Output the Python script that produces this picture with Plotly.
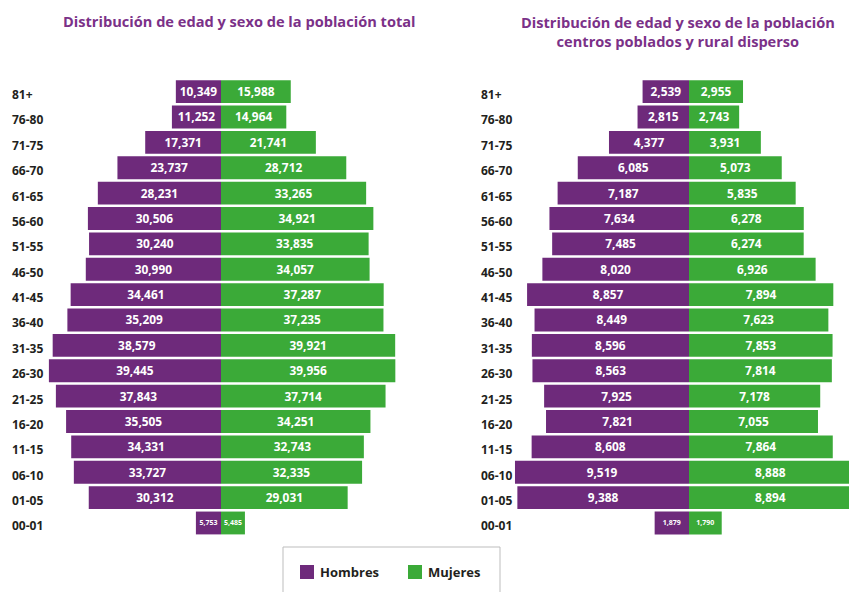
import plotly.graph_objects as go

W, H = 849, 592

# Age groups, bottom to top
ages = ["00-01", "01-05", "06-10", "11-15", "16-20", "21-25", "26-30", "31-35", "36-40",
        "41-45", "46-50", "51-55", "56-60", "61-65", "66-70", "71-75", "76-80", "81+"]

# Población total
total_hombres = [5753, 30312, 33727, 34331, 35505, 37843, 39445, 38579, 35209,
                 34461, 30990, 30240, 30506, 28231, 23737, 17371, 11252, 10349]
total_mujeres = [5485, 29031, 32335, 32743, 34251, 37714, 39956, 39921, 37235,
                 37287, 34057, 33835, 34921, 33265, 28712, 21741, 14964, 15988]

# Centros poblados y rural disperso
rural_hombres = [1879, 9388, 9519, 8608, 7821, 7925, 8563, 8596, 8449,
                 8857, 8020, 7485, 7634, 7187, 6085, 4377, 2815, 2539]
rural_mujeres = [1790, 8894, 8888, 7864, 7055, 7178, 7814, 7853, 7623,
                 7894, 6926, 6274, 6278, 5835, 5073, 3931, 2743, 2955]

title_total = "Distribución de edad y sexo de la población total"
title_rural = "Distribución de edad y sexo de la población<br>centros poblados y rural disperso"

PURPLE = "#6E2A7B"
GREEN = "#3BAA38"
TITLE_COLOR = "#7B3188"
FONT = "Open Sans"


def px(x):
    return x / W


def py(y):
    return 1 - y / H


def sizes(n):
    # the first group (00-01) gets a much smaller label
    return [7] + [12] * (n - 1)


fig = go.Figure()


def add_pyramid(men, women, xa, ya):
    fig.add_trace(go.Bar(
        y=ages, x=[-v for v in men], orientation="h", name="Hombres",
        marker=dict(color=PURPLE, line=dict(width=0)),
        text=[f"{v:,}" for v in men], textposition="inside", insidetextanchor="middle",
        textangle=0,
        textfont=dict(color="white", family=FONT, size=sizes(len(men)), weight="bold"),
        xaxis=xa, yaxis=ya, showlegend=False, hoverinfo="skip",
    ))
    fig.add_trace(go.Bar(
        y=ages, x=women, orientation="h", name="Mujeres",
        marker=dict(color=GREEN, line=dict(width=0)),
        text=[f"{v:,}" for v in women], textposition="inside", insidetextanchor="middle",
        textangle=0,
        textfont=dict(color="white", family=FONT, size=sizes(len(women)), weight="bold"),
        xaxis=xa, yaxis=ya, showlegend=False, hoverinfo="skip",
    ))


add_pyramid(total_hombres, total_mujeres, "x", "y")
add_pyramid(rural_hombres, rural_mujeres, "x2", "y2")

# axis scales: units per pixel for each pyramid
left_upp = 229.2
right_upp = 54.7
yrange = [-2.72, 20.61]

axis_common = dict(showgrid=False, zeroline=False, showticklabels=False, showline=False,
                   ticks="", fixedrange=True)

fig.update_layout(
    width=W, height=H,
    margin=dict(l=0, r=0, t=0, b=0),
    paper_bgcolor="white", plot_bgcolor="white",
    barmode="relative", bargap=0.1,
    font=dict(family=FONT, color="#231F20"),
    showlegend=False,
    xaxis=dict(domain=[0, px(424)], range=[-221 * left_upp, (424 - 221) * left_upp], **axis_common),
    xaxis2=dict(domain=[px(430), 1], range=[-(689 - 430) * right_upp, (849 - 689) * right_upp],
                **axis_common),
    yaxis=dict(domain=[0, 1], range=yrange, type="category", anchor="x",
               categoryorder="array", categoryarray=ages, **axis_common),
    yaxis2=dict(domain=[0, 1], range=yrange, type="category", anchor="x2",
                categoryorder="array", categoryarray=ages, **axis_common),
)

annotations = []
# age group labels, left-aligned beside each pyramid
for ref, xpix in (("y", 10), ("y2", 479)):
    for a in ages:
        annotations.append(dict(
            x=px(xpix), xref="paper", y=a, yref=ref, text=a, showarrow=False,
            xanchor="left", yanchor="middle", yshift=-3,
            font=dict(family=FONT, size=12, color="#231F20", weight="bold"),
        ))

# titles
annotations.append(dict(
    x=px(239.5), xref="paper", y=py(21), yref="paper", text=title_total, showarrow=False,
    xanchor="center", yanchor="middle",
    font=dict(family=FONT, size=14.6, color=TITLE_COLOR, weight="bold"),
))
annotations.append(dict(
    x=px(678), xref="paper", y=py(31), yref="paper", text=title_rural, showarrow=False,
    xanchor="center", yanchor="middle", align="center",
    font=dict(family=FONT, size=14.6, color=TITLE_COLOR, weight="bold"),
))

# legend entries
for label, color, sx in (("Hombres", PURPLE, 300), ("Mujeres", GREEN, 408)):
    annotations.append(dict(
        x=px(sx + 18), xref="paper", y=py(572), yref="paper", text=label, showarrow=False,
        xanchor="left", yanchor="middle",
        font=dict(family=FONT, size=13, color="#231F20", weight="bold"),
    ))

shapes = [
    dict(type="rect", xref="paper", yref="paper", x0=px(283), x1=px(500), y0=py(547), y1=py(600),
         line=dict(color="#BDBDBD", width=1), fillcolor="rgba(0,0,0,0)", layer="above"),
    dict(type="rect", xref="paper", yref="paper", x0=px(300), x1=px(314), y0=py(565), y1=py(579),
         line=dict(width=0), fillcolor=PURPLE),
    dict(type="rect", xref="paper", yref="paper", x0=px(408), x1=px(422), y0=py(565), y1=py(579),
         line=dict(width=0), fillcolor=GREEN),
]

fig.update_layout(annotations=annotations, shapes=shapes)

fig.write_html("out.html")
